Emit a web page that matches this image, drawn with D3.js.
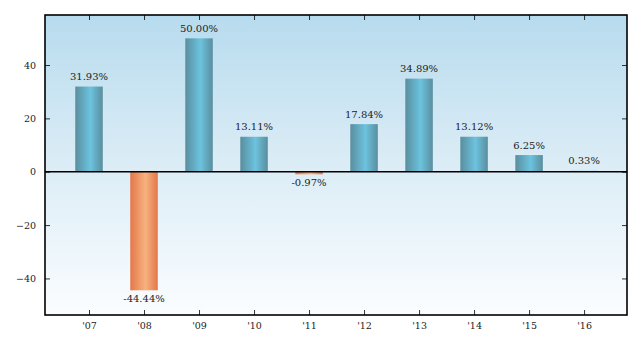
<!DOCTYPE html>
<html>
<head>
<meta charset="utf-8">
<script src="https://cdn.jsdelivr.net/npm/d3@7"></script>
<style>
  html, body { margin: 0; padding: 0; background: #fff; }
  svg { display: block; }
  text { font-family: "DejaVu Serif", serif; }
</style>
</head>
<body>
<svg id="chart" width="641" height="347"></svg>
<script>
// Annual returns by year
const years = ["'07", "'08", "'09", "'10", "'11", "'12", "'13", "'14", "'15", "'16"];
const returns = [31.93, -44.44, 50.00, 13.11, -0.97, 17.84, 34.89, 13.12, 6.25, 0.33];
const yTicks = [-40, -20, 0, 20, 40];

const W = 641, H = 347;
const m = { left: 45, right: 14, top: 15, bottom: 32 };
const iw = W - m.left - m.right, ih = H - m.top - m.bottom;

const svg = d3.select("#chart");
const defs = svg.append("defs");

// background: light blue at top fading to white
const bg = defs.append("linearGradient").attr("id", "bg")
  .attr("x1", 0).attr("y1", 0).attr("x2", 0).attr("y2", 1);
bg.append("stop").attr("offset", "0%").attr("stop-color", "#b7dbee");
bg.append("stop").attr("offset", "45%").attr("stop-color", "#d8ebf5");
bg.append("stop").attr("offset", "100%").attr("stop-color", "#fbfdff");

// cylinder-like shading across each bar
function barGrad(id, edge, mid) {
  const g = defs.append("linearGradient").attr("id", id)
    .attr("x1", 0).attr("y1", 0).attr("x2", 1).attr("y2", 0);
  g.append("stop").attr("offset", "0%").attr("stop-color", edge);
  g.append("stop").attr("offset", "55%").attr("stop-color", mid);
  g.append("stop").attr("offset", "100%").attr("stop-color", edge);
}
barGrad("pos", "#5a8e9e", "#6cc3de");
barGrad("neg", "#e4774a", "#f6b27f");

const x = d3.scaleLinear().domain([-0.8, 9.78]).range([0, iw]);
const y = d3.scaleLinear().domain([-53.7, 58.75]).range([ih, 0]);
const bw = (x(1) - x(0)) * 0.5;

const g = svg.append("g").attr("transform", `translate(${m.left},${m.top})`);

g.append("rect").attr("width", iw).attr("height", ih).attr("fill", "url(#bg)");

// bars
g.selectAll("rect.bar").data(returns).join("rect")
  .attr("class", "bar")
  .attr("x", (d, i) => x(i) - bw / 2)
  .attr("width", bw)
  .attr("y", d => y(Math.max(0, d)))
  .attr("height", d => Math.abs(y(d) - y(0)))
  .attr("fill", d => d >= 0 ? "url(#pos)" : "url(#neg)");

// value labels
g.selectAll("text.val").data(returns).join("text")
  .attr("class", "val")
  .attr("x", (d, i) => x(i))
  .attr("y", d => d >= 0 ? y(d) - 6.5 : y(d) + 12)
  .attr("text-anchor", "middle")
  .attr("font-size", 10)
  .attr("fill", "#222")
  .text(d => d.toFixed(2) + "%");

// zero line
g.append("line").attr("x1", 0).attr("x2", iw)
  .attr("y1", y(0)).attr("y2", y(0))
  .attr("stroke", "#000").attr("stroke-width", 1.6);

// axes: ticks pointing inward on all four sides
const fmt = d => d < 0 ? "\u2212" + Math.abs(d) : String(d);
const axL = d3.axisLeft(y).tickValues(yTicks).tickFormat(fmt).tickSizeInner(-5).tickSizeOuter(0).tickPadding(9);
const axR = d3.axisRight(y).tickValues(yTicks).tickFormat("").tickSizeInner(-5).tickSizeOuter(0);
const axB = d3.axisBottom(x).tickValues(d3.range(years.length)).tickFormat(i => years[i]).tickSizeInner(-5).tickSizeOuter(0).tickPadding(7.5);
const axT = d3.axisTop(x).tickValues(d3.range(years.length)).tickFormat("").tickSizeInner(-5).tickSizeOuter(0);

function style(sel) {
  sel.select(".domain").remove();
  sel.selectAll(".tick line").attr("stroke", "#000").attr("stroke-width", 0.8);
  sel.selectAll(".tick text").attr("font-size", 9.5).attr("fill", "#222")
    .attr("font-family", "DejaVu Serif, serif");
}
g.append("g").call(axL).call(style);
g.append("g").attr("transform", `translate(${iw},0)`).call(axR).call(style);
g.append("g").attr("transform", `translate(0,${ih})`).call(axB).call(style);
g.append("g").call(axT).call(style);

// frame
g.append("rect").attr("width", iw).attr("height", ih)
  .attr("fill", "none").attr("stroke", "#000").attr("stroke-width", 1.6);
</script>
</body>
</html>
